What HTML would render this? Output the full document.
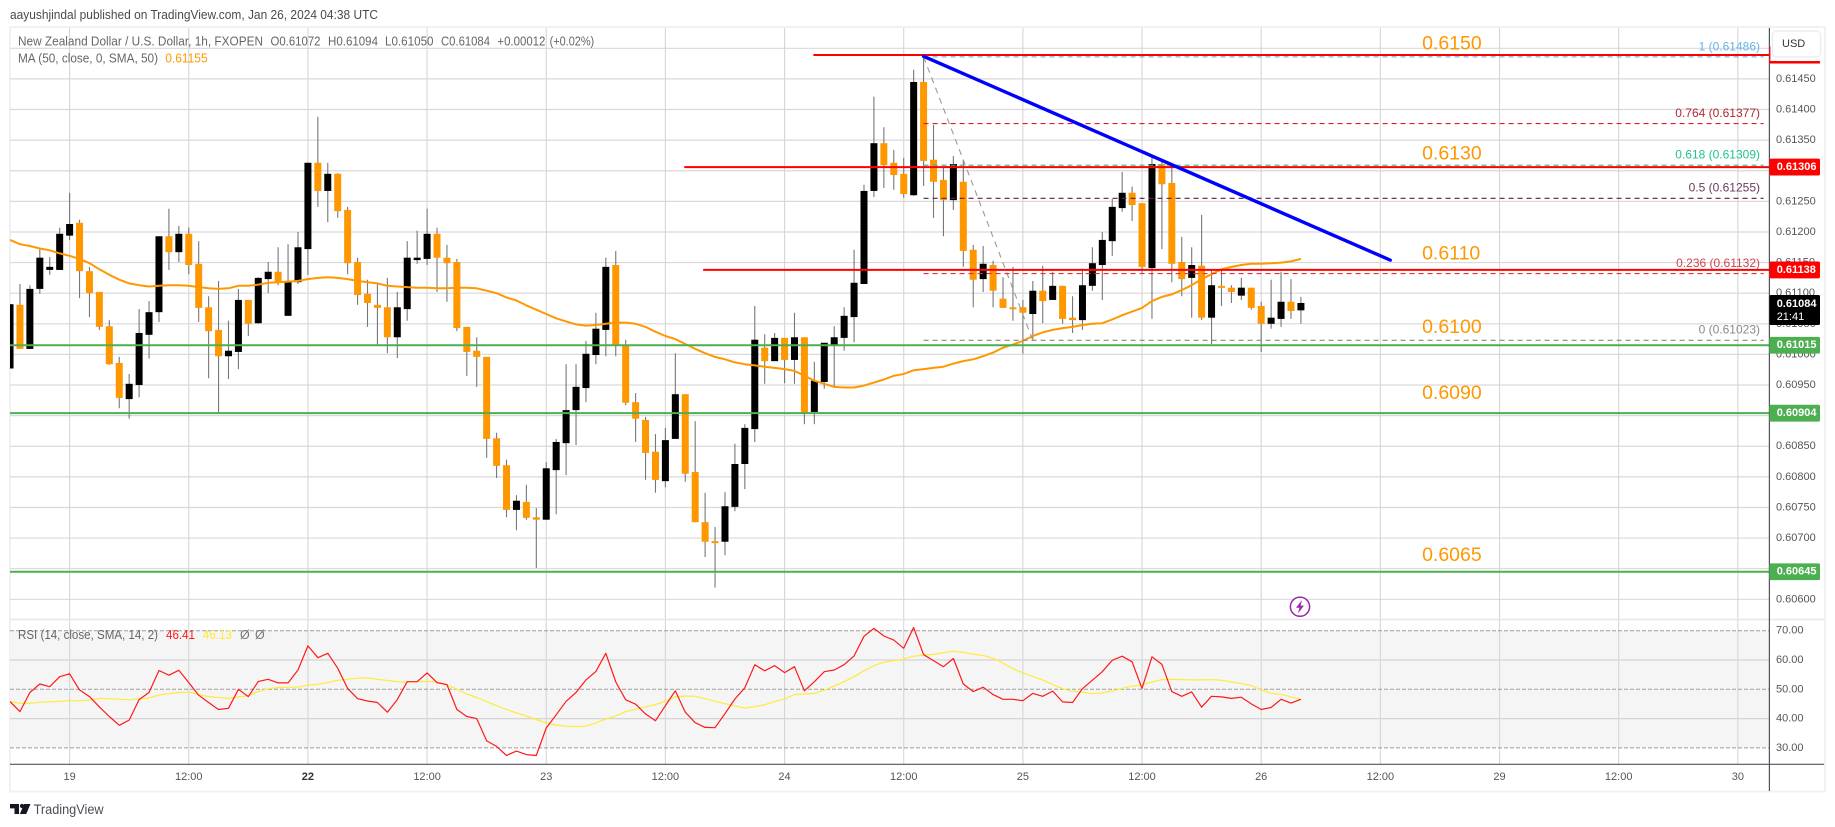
<!DOCTYPE html>
<html lang="en">
<head>
<meta charset="utf-8">
<title>NZD/USD chart</title>
<style>
html,body{margin:0;padding:0;background:#fff;width:1835px;height:827px;overflow:hidden}
svg{display:block;font-family:"Liberation Sans",sans-serif}
text{dominant-baseline:central}
</style>
</head>
<body>
<svg id="chart" xmlns="http://www.w3.org/2000/svg" width="1835" height="827" viewBox="0 0 1835 827">
  <defs>
    <clipPath id="price-clip"><rect x="10" y="28" width="1759" height="591"/></clipPath>
    <clipPath id="rsi-clip"><rect x="10" y="620" width="1759" height="144"/></clipPath>
  </defs>
  <text x="10" y="15" font-size="12.5" fill="#4a4a4a" textLength="368" lengthAdjust="spacingAndGlyphs">aayushjindal published on TradingView.com, Jan 26, 2024 04:38 UTC</text>
  <rect x="10" y="27" width="1815" height="764.5" fill="#fff" stroke="#f0f0f5" stroke-width="2"/>
  <rect x="10" y="630.3" width="1759" height="117.4" fill="#f5f5f5"/>
  <g id="grid"></g>
  <rect x="10" y="618.7" width="1814" height="1.6" fill="#e6e6ec"/>
  <g id="candles" clip-path="url(#price-clip)"></g>
  <g id="ma" clip-path="url(#price-clip)"></g>
  <g id="fib"></g>
  <g id="levels"></g>
  <g id="trend"></g>
  <g id="notes"></g>
  <g id="rsi" clip-path="url(#rsi-clip)"></g>

  <line x1="10" y1="764.3" x2="1824" y2="764.3" stroke="#50535e" stroke-width="1.2"/>
  <line x1="1769.4" y1="28" x2="1769.4" y2="791" stroke="#50535e" stroke-width="1.2"/>
  <g id="axes"></g>
  <g id="tags"></g>

  <rect x="1770.4" y="28" width="53" height="33" fill="#fff"/>
  <rect x="1772.5" y="31" width="48" height="26" rx="4" fill="#fff" stroke="#ebebf0" stroke-width="1.3"/>
  <text x="1782" y="44" font-size="11" fill="#333">USD</text>

  <text x="18" y="41.7" font-size="12.5" fill="#666" textLength="245" lengthAdjust="spacingAndGlyphs">New Zealand Dollar / U.S. Dollar, 1h, FXOPEN</text>
  <text x="270.5" y="41.7" font-size="12.5" fill="#666" textLength="50" lengthAdjust="spacingAndGlyphs">O0.61072</text>
  <text x="328" y="41.7" font-size="12.5" fill="#666" textLength="50" lengthAdjust="spacingAndGlyphs">H0.61094</text>
  <text x="385" y="41.7" font-size="12.5" fill="#666" textLength="48.5" lengthAdjust="spacingAndGlyphs">L0.61050</text>
  <text x="441" y="41.7" font-size="12.5" fill="#666" textLength="49" lengthAdjust="spacingAndGlyphs">C0.61084</text>
  <text x="497.4" y="41.7" font-size="12.5" fill="#666" textLength="48" lengthAdjust="spacingAndGlyphs">+0.00012</text>
  <text x="549.6" y="41.7" font-size="12.5" fill="#666" textLength="44.6" lengthAdjust="spacingAndGlyphs">(+0.02%)</text>
  <text x="18" y="58.7" font-size="12.5" fill="#666" textLength="140" lengthAdjust="spacingAndGlyphs">MA (50, close, 0, SMA, 50)</text>
  <text x="165.3" y="58.7" font-size="12.5" fill="#ff9800" textLength="42.3" lengthAdjust="spacingAndGlyphs">0.61155</text>
  <text x="18" y="635" font-size="12.5" fill="#666" textLength="140" lengthAdjust="spacingAndGlyphs">RSI (14, close, SMA, 14, 2)</text>
  <text x="166" y="635" font-size="12.5" fill="#ff1a1a" textLength="29" lengthAdjust="spacingAndGlyphs">46.41</text>
  <text x="202.8" y="635" font-size="12.5" fill="#ffeb3b" textLength="29.2" lengthAdjust="spacingAndGlyphs">46.13</text>
  <text x="240" y="635" font-size="12.5" fill="#777">Ø</text>
  <text x="255" y="635" font-size="12.5" fill="#777">Ø</text>

  <g>
    <circle cx="1300" cy="606.7" r="9.6" fill="#fff" stroke="#9c27b0" stroke-width="1.5"/>
    <polygon points="1302,600 1296,607.8 1299.4,607.8 1298,613.4 1304,605.6 1300.6,605.6" fill="#9c27b0"/>
  </g>

  <g>
    <path d="M10 804h9v10h-4.5v-5.6H10z M24 804h6.5l-4.3 10h-6.3z" fill="#131722"/>
    <circle cx="22" cy="806" r="2.1" fill="#131722"/>
    <text x="33.6" y="809" font-size="14" fill="#4a4e59" textLength="70" lengthAdjust="spacingAndGlyphs">TradingView</text>
  </g>
</svg>

<script>
// ---- data ----
const firstBar = -6;
const opens = [0.60977,0.61081,0.61009,0.61107,0.61138,0.61138,0.61194,0.61215,0.61136,0.61102,0.61046,0.60986,0.60927,0.60950,0.61032,0.61069,0.61193,0.61167,0.61197,0.61148,0.61077,0.61040,0.60997,0.61004,0.61089,0.61051,0.61123,0.61135,0.61063,0.61118,0.61172,0.61313,0.61267,0.61295,0.61236,0.61151,0.61099,0.61081,0.61077,0.61028,0.61074,0.61154,0.61156,0.61197,0.61158,0.61151,0.61045,0.61006,0.60996,0.60863,0.60819,0.60746,0.60759,0.60734,0.60730,0.60811,0.60855,0.60909,0.60945,0.60999,0.61040,0.61146,0.61015,0.60922,0.60893,0.60841,0.60793,0.60862,0.60935,0.60808,0.60726,0.60695,0.60694,0.60751,0.60821,0.60878,0.61011,0.60989,0.61027,0.60991,0.61028,0.60906,0.60955,0.61015,0.61027,0.61061,0.61115,0.61267,0.61345,0.61313,0.61295,0.61260,0.61445,0.61318,0.61285,0.61252,0.61282,0.61171,0.61123,0.61146,0.61091,0.61077,0.61077,0.61066,0.61104,0.61089,0.61112,0.61060,0.61056,0.61112,0.61146,0.61185,0.61239,0.61264,0.61247,0.61141,0.61311,0.61280,0.61151,0.61125,0.61145,0.61060,0.61112,0.61109,0.61096,0.61109,0.61079,0.61050,0.61058,0.61086,0.61072];
const highs = [0.61082,0.61115,0.61113,0.61172,0.61159,0.61207,0.61264,0.61220,0.61143,0.61102,0.61056,0.60996,0.60968,0.61074,0.61087,0.61193,0.61238,0.61210,0.61207,0.61185,0.61095,0.61120,0.61055,0.61107,0.61089,0.61126,0.61151,0.61175,0.61180,0.61200,0.61313,0.61388,0.61313,0.61296,0.61241,0.61158,0.61122,0.61117,0.61125,0.61102,0.61185,0.61202,0.61238,0.61207,0.61179,0.61156,0.61045,0.61028,0.60996,0.60872,0.60828,0.60770,0.60787,0.60749,0.60824,0.60862,0.60984,0.60984,0.61022,0.61068,0.61158,0.61169,0.61024,0.60937,0.60898,0.60870,0.60880,0.61002,0.60935,0.60891,0.60774,0.60718,0.60775,0.60854,0.60886,0.61079,0.61033,0.61035,0.61027,0.61068,0.61028,0.60988,0.61019,0.61046,0.61077,0.61171,0.61277,0.61421,0.61371,0.61334,0.61321,0.61465,0.61487,0.61375,0.61306,0.61324,0.61318,0.61179,0.61177,0.61153,0.61126,0.61143,0.61089,0.61120,0.61145,0.61135,0.61112,0.61095,0.61140,0.61175,0.61200,0.61254,0.61298,0.61274,0.61247,0.61323,0.61316,0.61311,0.61192,0.61175,0.61228,0.61138,0.61138,0.61113,0.61125,0.61109,0.61086,0.61122,0.61135,0.61123,0.61094];
const lows = [0.60977,0.61009,0.61009,0.61099,0.61130,0.61138,0.61187,0.61092,0.61061,0.61040,0.60983,0.60912,0.60895,0.60930,0.60993,0.61053,0.61138,0.61151,0.61131,0.61053,0.60961,0.60904,0.60960,0.60976,0.61030,0.61050,0.61100,0.61113,0.61063,0.61115,0.61130,0.61241,0.61216,0.61223,0.61131,0.61081,0.61045,0.61015,0.61002,0.60994,0.61055,0.61148,0.61146,0.61102,0.61086,0.61038,0.60965,0.60947,0.60831,0.60798,0.60734,0.60713,0.60730,0.60651,0.60730,0.60739,0.60803,0.60852,0.60922,0.60984,0.60997,0.60997,0.60917,0.60857,0.60795,0.60774,0.60783,0.60862,0.60792,0.60726,0.60669,0.60619,0.60672,0.60744,0.60780,0.60857,0.60952,0.60989,0.60953,0.60952,0.60886,0.60886,0.60944,0.60947,0.61006,0.61020,0.61115,0.61257,0.61272,0.61269,0.61256,0.61259,0.61275,0.61223,0.61193,0.61236,0.61143,0.61077,0.61102,0.61077,0.61076,0.61055,0.61001,0.61024,0.61051,0.61089,0.61050,0.61035,0.61040,0.61104,0.61089,0.61161,0.61233,0.61218,0.61133,0.61058,0.61172,0.61118,0.61095,0.61060,0.61056,0.61017,0.61079,0.61084,0.61089,0.61073,0.61004,0.61042,0.61045,0.61058,0.61050];
const closes = [0.61082,0.61009,0.61107,0.61158,0.61143,0.61197,0.61213,0.61136,0.61100,0.61045,0.60984,0.60929,0.60952,0.61035,0.61069,0.61193,0.61167,0.61197,0.61146,0.61076,0.61038,0.60997,0.61006,0.61089,0.61050,0.61125,0.61135,0.61118,0.61120,0.61175,0.61313,0.61267,0.61295,0.61234,0.61149,0.61097,0.61084,0.61076,0.61028,0.61077,0.61158,0.61158,0.61197,0.61158,0.61149,0.61043,0.61004,0.60996,0.60862,0.60818,0.60746,0.60761,0.60733,0.60730,0.60814,0.60857,0.60909,0.60947,0.61001,0.61042,0.61143,0.61015,0.60921,0.60895,0.60839,0.60795,0.60860,0.60935,0.60805,0.60726,0.60694,0.60692,0.60752,0.60821,0.60880,0.61024,0.60989,0.61027,0.60991,0.61028,0.60904,0.60957,0.61019,0.61028,0.61063,0.61117,0.61267,0.61345,0.61309,0.61293,0.61262,0.61445,0.61316,0.61282,0.61252,0.61311,0.61169,0.61122,0.61148,0.61104,0.61076,0.61076,0.61068,0.61104,0.61087,0.61112,0.61058,0.61056,0.61113,0.61149,0.61187,0.61241,0.61264,0.61244,0.61143,0.61311,0.61278,0.61148,0.61123,0.61146,0.61060,0.61113,0.61109,0.61102,0.61109,0.61076,0.61050,0.61060,0.61086,0.61071,0.61084];
const maValues = [0.61187,0.61180,0.61177,0.61173,0.61170,0.61165,0.61161,0.61156,0.61149,0.61139,0.61130,0.61122,0.61116,0.61113,0.61111,0.61112,0.61113,0.61113,0.61112,0.61110,0.61108,0.61107,0.61108,0.61112,0.61112,0.61114,0.61117,0.61118,0.61119,0.61120,0.61123,0.61125,0.61126,0.61125,0.61123,0.61120,0.61118,0.61116,0.61112,0.61111,0.61110,0.61109,0.61109,0.61108,0.61108,0.61109,0.61109,0.61108,0.61104,0.61100,0.61093,0.61088,0.61080,0.61073,0.61066,0.61059,0.61054,0.61049,0.61047,0.61048,0.61050,0.61052,0.61052,0.61050,0.61045,0.61037,0.61030,0.61025,0.61017,0.61009,0.61002,0.60996,0.60992,0.60987,0.60984,0.60982,0.60980,0.60978,0.60976,0.60973,0.60965,0.60957,0.60952,0.60947,0.60946,0.60946,0.60949,0.60954,0.60959,0.60965,0.60968,0.60974,0.60976,0.60978,0.60980,0.60985,0.60989,0.60992,0.60997,0.61003,0.61011,0.61016,0.61022,0.61030,0.61036,0.61040,0.61043,0.61045,0.61048,0.61050,0.61051,0.61057,0.61064,0.61070,0.61076,0.61087,0.61094,0.61098,0.61105,0.61113,0.61123,0.61131,0.61139,0.61143,0.61146,0.61148,0.61148,0.61149,0.61150,0.61152,0.61156];
const rsiValues = [45.8,42.4,48.9,51.8,50.9,54.3,55.3,49.8,47.5,44.0,40.7,37.7,39.5,46.5,48.9,56.4,54.8,56.5,52.3,48.0,45.5,43.1,43.5,50.0,47.5,52.7,53.4,52.2,52.2,56.6,64.8,60.8,62.3,57.2,50.3,46.8,46.0,45.5,42.2,46.5,52.6,52.6,55.6,52.3,51.6,43.1,40.7,40.0,32.4,30.5,27.4,28.9,27.7,27.4,36.8,41.3,45.9,48.9,53.2,56.1,62.3,52.5,46.4,44.9,41.6,39.3,44.4,49.5,42.2,38.6,37.0,36.9,41.7,46.7,50.5,58.4,56.3,58.1,55.7,57.7,49.5,52.6,56.0,56.6,58.4,61.4,68.1,70.8,68.2,66.8,64.0,71.1,61.8,59.8,57.7,60.5,51.8,49.2,50.7,48.2,46.6,46.6,46.1,48.6,47.6,49.4,45.7,45.5,50.2,53.1,56.0,59.9,61.3,59.4,50.3,61.1,58.5,49.2,47.6,49.1,43.9,47.6,47.4,46.9,47.3,45.0,43.1,43.8,46.6,45.3,46.6];
const rsiSmaValues = [45.8,45.3,45.2,45.6,45.7,45.9,46.1,46.1,46.3,46.9,46.8,46.6,46.4,46.8,47.0,48.1,48.5,48.9,49.0,48.2,47.5,47.2,46.9,47.4,47.8,49.2,50.2,50.6,50.7,50.7,51.4,51.7,52.3,53.1,53.4,53.8,53.9,53.4,53.0,52.6,52.5,52.6,52.7,52.5,51.5,50.0,48.4,47.2,45.8,44.4,43.1,41.9,40.9,39.7,38.5,37.8,37.4,37.3,37.4,38.5,39.9,40.9,42.4,43.2,44.0,44.8,45.9,47.4,47.7,47.6,46.8,45.9,45.1,44.4,43.6,44.1,44.7,45.8,46.7,48.2,48.4,48.6,49.7,51.1,52.6,54.3,56.3,58.1,59.2,59.8,60.3,61.3,61.7,61.9,62.5,63.0,62.6,62.0,61.5,60.6,58.9,57.0,55.6,54.4,53.2,51.6,50.2,49.3,49.0,48.5,48.8,49.4,50.3,51.1,51.5,52.5,53.3,53.4,53.3,53.2,53.2,53.3,53.1,52.5,51.9,51.3,49.8,48.6,48.3,47.4,46.6];

const priceTicks = [0.615,0.6145,0.614,0.6135,0.613,0.6125,0.612,0.6115,0.611,0.6105,0.61,0.6095,0.609,0.6085,0.608,0.6075,0.607,0.6065,0.606];
const rsiGridTicks = [60,40];
const rsiDashedTicks = [70,50,30];
const rsiLabelTicks = [70,60,50,40,30];
const timeTickBars = [0,12,24,36,48,60,72,84,96,108,120,132,144,156,168];
const timeTickLabels = ['19','12:00','22','12:00','23','12:00','24','12:00','25','12:00','26','12:00','29','12:00','30'];

const levelPrices = [0.61489,0.61306,0.61138,0.61015,0.60904,0.60645];
const levelStartBars = [74.9,61.9,63.8,-6,-6,-6];
const levelColors = ['#ff0000','#ff0000','#ff0000','#4caf50','#4caf50','#4caf50'];
const tagPrices = [0.61306,0.61138,0.61015,0.60904,0.60645];
const tagColors = ['#ff0000','#ff0000','#4caf50','#4caf50','#4caf50'];

const fibRatios = ['1','0.764','0.618','0.5','0.236','0'];
const fibPrices = [0.61486,0.61377,0.61309,0.61255,0.61132,0.61023];
const fibColors = ['#5ba6d6','#e5162a','#2fb98c','#5b1f45','#e5303c','#888888'];
const fibTextColors = ['#64b5e6','#b22833','#22c38d','#6a3a58','#d0444f','#8a8a8a'];
const fibStartBar = 86;
const fibEndBar = 170.6;
const fibDiagonalBars = [86,97];
const fibDiagonalPrices = [0.61486,0.61023];

const trendBars = [86,133];
const trendPrices = [0.61487,0.61154];

const noteLabels = ['0.6150','0.6130','0.6110','0.6100','0.6090','0.6065'];
const notePrices = [0.61508,0.61328,0.61165,0.61045,0.60937,0.60672];
const noteBar = 136.2;

// ---- axis functions ----
function barX(bar){ return 69.6 + bar * 9.93; }
function priceY(p){ return 48.3 + (0.615 - p) * 61222; }
function rsiY(r){ return 689.3 - (r - 50) * 2.93; }

const NS = 'http://www.w3.org/2000/svg';
function mk(parentId, tag, attrs, text){
  const node = document.createElementNS(NS, tag);
  for (const k in attrs) node.setAttribute(k, attrs[k]);
  if (text !== undefined) node.textContent = text;
  document.getElementById(parentId).appendChild(node);
  return node;
}
let el;

// ---- grid ----
priceTicks.forEach(function(p){
  el = mk('grid','line',{x1:10,x2:1769,y1:priceY(p),y2:priceY(p),stroke:'#d9d9db','stroke-width':1.2});
  
  
});
rsiGridTicks.forEach(function(r){
  el = mk('grid','line',{x1:10,x2:1769,y1:rsiY(r),y2:rsiY(r),stroke:'#d4d4d6','stroke-width':1.2});
  
  
});
timeTickBars.forEach(function(b){
  el = mk('grid','line',{x1:barX(b),x2:barX(b),y1:28,y2:764,stroke:'#d6d6d8','stroke-width':1.1});
  
  
});
rsiDashedTicks.forEach(function(r){
  el = mk('grid','line',{x1:10,x2:1769,y1:rsiY(r),y2:rsiY(r),stroke:'#9e9e9e','stroke-width':1,'stroke-dasharray':'4 2'});
  
  
});

// ---- candles ----
opens.forEach(function(o, n){
  const x = barX(firstBar + n);
  const c = closes[n];
  const up = c >= o;
  el = mk('candles','line',{x1:x,x2:x,y1:priceY(highs[n]),y2:priceY(lows[n]),stroke:'#777','stroke-width':1.1});
  
  
  const top = priceY(Math.max(o, c));
  const h = Math.max(priceY(Math.min(o, c)) - top, 2);
  el = mk('candles','rect',{x:x-3.5,y:top,width:7,height:h,fill:up?'#000000':'#ff9800'});
  
  
});

// ---- series lines ----
function linePoints(values, yFn){
  return values.map(function(v, n){ return barX(firstBar + n).toFixed(1) + ',' + yFn(v).toFixed(1); }).join(' ');
}
el = mk('ma','polyline',{points:linePoints(maValues, priceY),fill:'none',stroke:'#ff9800','stroke-width':2,'stroke-linejoin':'round'});



el = mk('rsi','polyline',{points:linePoints(rsiSmaValues, rsiY),fill:'none',stroke:'#ffeb3b','stroke-width':1.2,'stroke-linejoin':'round'});


el = mk('rsi','polyline',{points:linePoints(rsiValues, rsiY),fill:'none',stroke:'#ff1a1a','stroke-width':1.2,'stroke-linejoin':'round'});



// ---- fibonacci ----
el = mk('fib','line',{x1:barX(fibDiagonalBars[0]),y1:priceY(fibDiagonalPrices[0]),x2:barX(fibDiagonalBars[1]),y2:priceY(fibDiagonalPrices[1]),stroke:'#9a9a9a','stroke-width':1.1,'stroke-dasharray':'6 5'});


fibPrices.forEach(function(p, n){
  el = mk('fib','line',{x1:barX(fibStartBar),x2:barX(fibEndBar),y1:priceY(p),y2:priceY(p),stroke:fibColors[n],'stroke-width':1.1,'stroke-dasharray':'5 4'});
  
  
  el = mk('fib','text',{x:1760,y:priceY(p)-10.6,'text-anchor':'end','font-size':12,fill:fibTextColors[n]}, fibRatios[n] + ' (' + p.toFixed(5) + ')');
  
  
});

// ---- horizontal level lines ----
levelPrices.forEach(function(p, n){
  el = mk('levels','line',{x1:barX(levelStartBars[n]),x2:1769,y1:priceY(p),y2:priceY(p),stroke:levelColors[n],'stroke-width':2});
  
  
});

// ---- trend line ----
el = mk('trend','line',{x1:barX(trendBars[0]),y1:priceY(trendPrices[0]),x2:barX(trendBars[1]),y2:priceY(trendPrices[1]),stroke:'#0000ff','stroke-width':3.4,'stroke-linecap':'round'});



// ---- notes ----
noteLabels.forEach(function(t, n){
  el = mk('notes','text',{x:barX(noteBar),y:priceY(notePrices[n]),'font-size':19.5,fill:'#ff9800'}, t);
  
  
});

// ---- axis labels ----
priceTicks.forEach(function(p){
  el = mk('axes','text',{x:1776,y:priceY(p),'font-size':11,fill:'#555'}, p.toFixed(5));
  
  
});
rsiLabelTicks.forEach(function(r){
  el = mk('axes','text',{x:1776,y:rsiY(r),'font-size':11,fill:'#555'}, r.toFixed(2));
  
  
});
timeTickLabels.forEach(function(t, n){
  const dayBold = t === '22';
  el = mk('axes','text',{x:barX(timeTickBars[n]),y:777,'text-anchor':'middle','font-size':11,fill:dayBold?'#333':'#555','font-weight':dayBold?'bold':'normal'}, t);
  
  
});

// ---- price tags ----
el = mk('tags','rect',{x:1769.4,y:priceY(levelPrices[0])-8.5,width:50.6,height:17,fill:'#ff0000'});


tagPrices.forEach(function(p, n){
  const cy = priceY(p);
  el = mk('tags','rect',{x:1769.4,y:cy-8.4,width:50.6,height:16.8,rx:1.5,fill:tagColors[n]});
  
  
  el = mk('tags','text',{x:1776.7,y:cy,'font-size':11,'font-weight':'bold',fill:'#fff'}, p.toFixed(5));
  
  
});
const lastClose = closes[closes.length - 1];
el = mk('tags','rect',{x:1769.4,y:priceY(lastClose)-8,width:50.6,height:30,rx:1.5,fill:'#000'});


el = mk('tags','text',{x:1776.7,y:priceY(lastClose)+1,'font-size':11,'font-weight':'bold',fill:'#fff'}, lastClose.toFixed(5));


el = mk('tags','text',{x:1776.7,y:priceY(lastClose)+14,'font-size':11,fill:'#fff'}, '21:41');


</script>
</body>
</html>
